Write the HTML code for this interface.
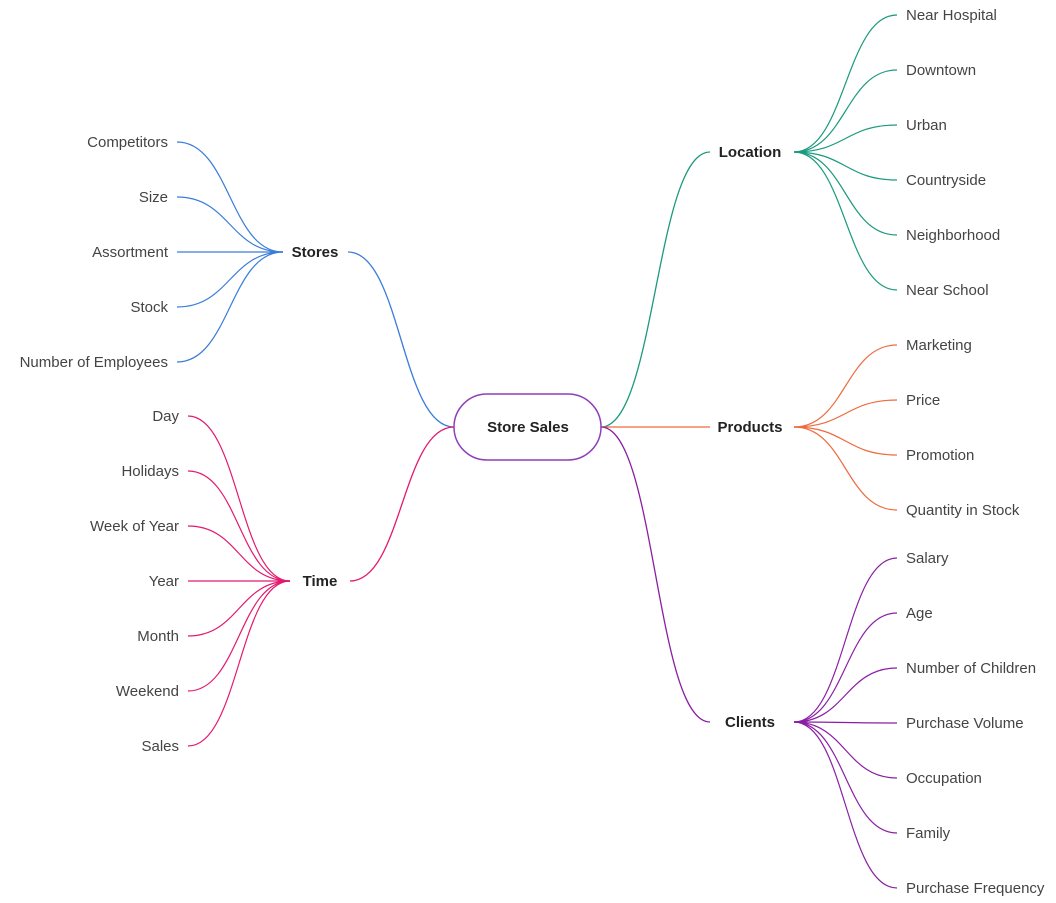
<!DOCTYPE html>
<html><head><meta charset="utf-8"><style>
html,body{margin:0;padding:0;background:#fff;}
svg{display:block;font-family:"Liberation Sans",sans-serif;}
</style></head><body>
<svg id="map" width="1056" height="903"></svg>
<script>
const branchNames=["Location","Products","Clients","Stores","Time"];
const branchSides=["right","right","right","left","left"];
const branchColors=["#1b9a7e","#ef6a3e","#8a1fa3","#3b7dd8","#e3196f"];
const locationItems=["Near Hospital","Downtown","Urban","Countryside","Neighborhood","Near School"];
const productItems=["Marketing","Price","Promotion","Quantity in Stock"];
const clientItems=["Salary","Age","Number of Children","Purchase Volume","Occupation","Family","Purchase Frequency"];
const storeItems=["Competitors","Size","Assortment","Stock","Number of Employees"];
const timeItems=["Day","Holidays","Week of Year","Year","Month","Weekend","Sales"];
const branchY=[152,427,722,252,581];
const childStartY=[15,345,558,142,416];
const items=[locationItems,productItems,clientItems,storeItems,timeItems];
const step=55;
const NS="http://www.w3.org/2000/svg";
const svg=document.getElementById('map');
function mk(t,a){const e=document.createElementNS(NS,t);for(const k in a)e.setAttribute(k,a[k]);svg.appendChild(e);return e;}
function curve(x1,y1,x2,y2){const m=(x1+x2)/2;return `M${x1},${y1} C${m},${y1} ${m},${y2} ${x2},${y2}`;}
const cx=528,cy=427;
branchNames.forEach((name,i)=>{
  const right=branchSides[i]==="right";
  const col=branchColors[i];
  const by=branchY[i];
  // main connector
  let p;
  if(right){p=mk('path',{d:curve(601,cy,710,by),fill:'none',stroke:col,'stroke-width':1.3});}
  else{const ex=name==="Stores"?348:350;p=mk('path',{d:curve(454,cy,ex,by),fill:'none',stroke:col,'stroke-width':1.3});}
  
  
  // branch label
  let lx=right?750:(name==="Stores"?315:320);
  const t=mk('text',{x:lx,y:by+5,'text-anchor':'middle','font-size':15,'font-weight':'bold',fill:'#222'});
  t.textContent=name;
  
  
  // children
  const startX=right?794:(name==="Stores"?283:290);
  const endX=right?897:(name==="Stores"?177:188);
  items[i].forEach((c,j)=>{
    const y=childStartY[i]+j*step;
    const l=mk('path',{d:curve(startX,by,endX,y),fill:'none',stroke:col,'stroke-width':1.2});
    
    
    const tx=right?906:endX-9;
    const ct=mk('text',{x:tx,y:y+5,'text-anchor':right?'start':'end','font-size':15,fill:'#444'});
    ct.textContent=c;
    
    
  });
});
const r=mk('rect',{x:454,y:394,width:147,height:66,rx:33,ry:33,fill:'#fff',stroke:'#8e3fb8','stroke-width':1.5});


const ct=mk('text',{x:cx,y:cy+5,'text-anchor':'middle','font-size':15,'font-weight':'bold',fill:'#222'});
ct.textContent="Store Sales";


</script>
</body></html>
